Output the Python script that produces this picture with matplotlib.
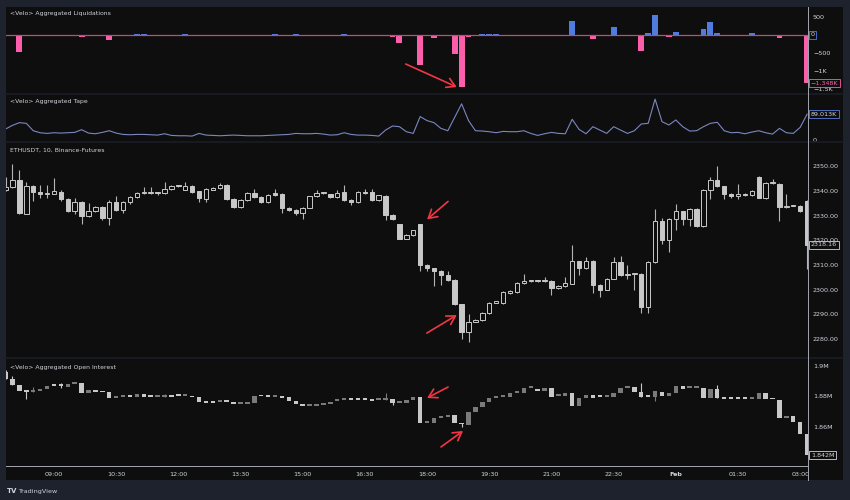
"""
ETHUSDT 10m chart with Velo liquidations, tape and open interest panels (TradingView style).
"""

import matplotlib
matplotlib.use("Agg")
import matplotlib.pyplot as plt
import matplotlib.transforms as mtransforms
from matplotlib.lines import Line2D
from matplotlib.patches import Rectangle
import numpy as np
import pandas as pd

W, H = 850, 500
BG = "#0e0e0e"
FRAME = "#1e222d"
TEXT = "#d1d4dc"
CANDLE = "#c8c8c8"
OI_UP = "#7a7a7a"
PINK = "#fb5fab"
BLUE = "#4e7ddf"
ARROW = "#f23645"

# ---- data -------------------------------------------------------------
times = pd.date_range("2024-01-31 07:50", periods=117, freq="10min")
tick_times = ["09:00", "10:30", "12:00", "13:30", "15:00", "16:30", "18:00",
              "19:30", "21:00", "22:30", "00:00", "01:30", "03:00"]
tick_labels = ["09:00", "10:30", "12:00", "13:30", "15:00", "16:30", "18:00",
               "19:30", "21:00", "22:30", "Feb", "01:30", "03:00"]

price_open = [
    2340.5, 2341.6, 2344.6, 2330.8, 2341.9, 2339.6, 2338.9, 2339.0, 2339.6, 2336.9,
    2331.9, 2335.7, 2329.8, 2331.8, 2333.5, 2329.2, 2335.4, 2332.5, 2335.4, 2337.6,
    2339.2, 2339.3, 2339.3, 2339.2, 2340.7, 2342.0, 2340.5, 2342.2, 2339.9, 2336.9,
    2340.5, 2341.2, 2342.6, 2336.6, 2333.5, 2336.2, 2339.2, 2337.6, 2335.4, 2339.2,
    2338.9, 2333.1, 2332.5, 2331.1, 2333.3, 2337.9, 2339.2, 2338.7, 2337.6, 2339.5,
    2336.5, 2335.5, 2339.6, 2339.6, 2336.2, 2338.1, 2330.3, 2326.5, 2320.7, 2322.2,
    2326.5, 2310.2, 2308.6, 2307.5, 2305.9, 2303.9, 2294.0, 2282.9, 2287.0, 2287.6,
    2290.6, 2294.8, 2294.4, 2298.5, 2299.1, 2302.8, 2303.6, 2303.6, 2303.5, 2303.6,
    2300.5, 2301.5, 2302.5, 2311.5, 2308.6, 2311.7, 2302.1, 2300.0, 2304.5, 2311.3,
    2305.9, 2306.3, 2306.5, 2293.0, 2311.3, 2327.7, 2320.3, 2328.5, 2331.8, 2328.5,
    2332.9, 2325.7, 2340.5, 2344.6, 2341.9, 2338.9, 2337.9, 2338.9, 2338.3, 2345.7,
    2337.3, 2343.3, 2343.0, 2333.5, 2334.1, 2334.1, 2336.0]
price_close = [
    2341.6, 2344.6, 2331.1, 2341.9, 2339.6, 2338.9, 2339.2, 2339.9, 2336.9, 2331.9,
    2335.5, 2329.8, 2331.8, 2333.5, 2329.2, 2335.4, 2332.5, 2335.4, 2337.6, 2339.2,
    2339.3, 2339.3, 2339.2, 2340.7, 2342.0, 2341.9, 2342.2, 2339.6, 2337.2, 2340.8,
    2341.2, 2342.6, 2336.6, 2333.5, 2336.2, 2339.2, 2337.6, 2335.4, 2338.4, 2338.4,
    2333.1, 2332.5, 2331.1, 2333.3, 2337.9, 2339.2, 2339.3, 2337.6, 2339.3, 2336.2,
    2335.5, 2339.6, 2339.2, 2336.2, 2338.3, 2330.3, 2328.7, 2320.7, 2322.2, 2324.1,
    2310.2, 2308.6, 2307.5, 2305.9, 2303.9, 2294.0, 2282.9, 2287.0, 2287.9, 2290.6,
    2294.8, 2294.9, 2299.1, 2299.5, 2302.8, 2303.6, 2303.6, 2303.5, 2303.6, 2300.5,
    2301.5, 2302.8, 2311.5, 2308.6, 2311.7, 2302.1, 2300.0, 2304.5, 2311.3, 2305.9,
    2306.3, 2306.5, 2293.0, 2311.3, 2327.7, 2320.3, 2328.5, 2331.8, 2328.5, 2332.9,
    2325.7, 2340.5, 2344.6, 2341.9, 2338.9, 2337.9, 2338.9, 2338.3, 2340.0, 2337.3,
    2343.3, 2343.4, 2333.5, 2334.1, 2334.1, 2331.9, 2318.16]
price_high = [
    2345.9, 2351.1, 2348.7, 2343.7, 2342.6, 2342.6, 2342.6, 2345.4, 2340.3, 2337.3,
    2337.3, 2336.0, 2335.2, 2334.0, 2334.0, 2336.2, 2337.9, 2335.8, 2338.0, 2339.6,
    2341.6, 2341.6, 2339.6, 2343.5, 2342.4, 2342.2, 2343.5, 2342.6, 2340.0, 2341.2,
    2341.6, 2343.3, 2343.0, 2337.0, 2336.6, 2339.5, 2340.8, 2337.9, 2338.7, 2340.8,
    2339.2, 2333.5, 2332.8, 2333.6, 2338.2, 2340.3, 2339.6, 2339.0, 2340.5, 2342.6,
    2336.8, 2340.0, 2340.8, 2341.0, 2338.6, 2338.4, 2330.6, 2326.8, 2322.5, 2324.4,
    2326.8, 2310.5, 2308.9, 2307.8, 2307.6, 2304.2, 2294.3, 2290.0, 2288.2, 2290.9,
    2295.1, 2295.2, 2299.4, 2299.8, 2303.1, 2306.5, 2303.9, 2303.9, 2305.2, 2303.9,
    2301.8, 2305.2, 2318.3, 2311.8, 2313.3, 2312.0, 2302.4, 2304.8, 2313.3, 2313.6,
    2310.2, 2306.8, 2306.8, 2311.6, 2332.9, 2329.0, 2329.0, 2334.9, 2332.1, 2333.2,
    2333.2, 2340.8, 2345.9, 2350.0, 2342.2, 2339.2, 2343.0, 2339.2, 2340.3, 2346.0,
    2343.6, 2345.0, 2343.3, 2338.9, 2334.4, 2334.4, 2336.3]
price_low = [
    2340.0, 2341.3, 2330.8, 2330.5, 2335.8, 2337.3, 2337.3, 2338.7, 2335.8, 2331.5,
    2330.6, 2326.8, 2329.5, 2331.5, 2328.1, 2326.1, 2332.0, 2331.1, 2334.9, 2337.0,
    2339.0, 2339.0, 2338.4, 2339.0, 2340.3, 2341.6, 2340.3, 2339.3, 2335.6, 2335.5,
    2340.3, 2341.0, 2336.3, 2333.2, 2333.2, 2336.0, 2337.0, 2335.0, 2335.0, 2338.1,
    2331.1, 2332.0, 2330.2, 2328.8, 2333.0, 2337.6, 2338.9, 2337.3, 2337.3, 2336.0,
    2334.2, 2335.2, 2338.9, 2335.9, 2335.8, 2328.1, 2328.4, 2320.4, 2320.4, 2321.9,
    2307.6, 2307.6, 2301.5, 2301.8, 2303.6, 2293.7, 2279.8, 2278.9, 2286.7, 2287.3,
    2290.3, 2294.5, 2294.1, 2298.2, 2298.8, 2302.5, 2303.3, 2303.2, 2303.2, 2297.8,
    2300.2, 2301.2, 2302.2, 2305.9, 2308.3, 2298.7, 2297.1, 2299.7, 2304.2, 2305.6,
    2304.5, 2300.0, 2290.4, 2290.4, 2311.0, 2318.7, 2315.3, 2324.1, 2326.1, 2325.7,
    2325.4, 2325.4, 2336.8, 2341.6, 2336.8, 2337.3, 2336.8, 2338.0, 2338.0, 2337.0,
    2336.8, 2343.0, 2327.7, 2333.2, 2333.8, 2331.6, 2308.2]

# open interest, millions
oi_open = [
    1.8963, 1.8915, 1.8875, 1.8836, 1.8832, 1.8836, 1.8847, 1.8871, 1.8869, 1.8864,
    1.8882, 1.8886, 1.8821, 1.8843, 1.8832, 1.8827, 1.8792, 1.8797, 1.8805, 1.8799,
    1.8814, 1.8797, 1.8797, 1.8797, 1.8810, 1.8805, 1.8805, 1.8805, 1.8794, 1.8766,
    1.8759, 1.8762, 1.8770, 1.8762, 1.8749, 1.8753, 1.8759, 1.8801, 1.8801, 1.8799,
    1.8801, 1.8799, 1.8773, 1.8749, 1.8738, 1.8740, 1.8746, 1.8753, 1.8770, 1.8775,
    1.8777, 1.8777, 1.8777, 1.8775, 1.8775, 1.8777, 1.8781, 1.8759, 1.8755, 1.8777,
    1.8799, 1.8624, 1.8624, 1.8660, 1.8663, 1.8679, 1.8628, 1.8613, 1.8696, 1.8733,
    1.8766, 1.8788, 1.8799, 1.8799, 1.8823, 1.8825, 1.8854, 1.8851, 1.8838, 1.8856,
    1.8803, 1.8805, 1.8821, 1.8738, 1.8788, 1.8810, 1.8799, 1.8797, 1.8799, 1.8821,
    1.8854, 1.8864, 1.8827, 1.8799, 1.8799, 1.8832, 1.8805, 1.8825, 1.8871, 1.8856,
    1.8858, 1.8858, 1.8792, 1.8847, 1.8788, 1.8786, 1.8786, 1.8786, 1.8784, 1.8786,
    1.8825, 1.8788, 1.8777, 1.8661, 1.8672, 1.8635, 1.8554]
oi_close = [
    1.8915, 1.8875, 1.8836, 1.8832, 1.8836, 1.8847, 1.8871, 1.8869, 1.8869, 1.8882,
    1.8886, 1.8821, 1.8843, 1.8832, 1.8827, 1.8792, 1.8797, 1.8805, 1.8799, 1.8814,
    1.8797, 1.8797, 1.8799, 1.8810, 1.8799, 1.8805, 1.8808, 1.8794, 1.8766, 1.8759,
    1.8759, 1.8770, 1.8762, 1.8749, 1.8753, 1.8759, 1.8801, 1.8801, 1.8799, 1.8801,
    1.8792, 1.8773, 1.8749, 1.8735, 1.8740, 1.8746, 1.8753, 1.8766, 1.8773, 1.8777,
    1.8777, 1.8777, 1.8775, 1.8773, 1.8777, 1.8781, 1.8759, 1.8762, 1.8777, 1.8799,
    1.8624, 1.8626, 1.8657, 1.8663, 1.8679, 1.8628, 1.8617, 1.8696, 1.8733, 1.8766,
    1.8788, 1.8799, 1.8801, 1.8821, 1.8825, 1.8854, 1.8856, 1.8838, 1.8856, 1.8794,
    1.8805, 1.8821, 1.8738, 1.8788, 1.8810, 1.8788, 1.8797, 1.8799, 1.8821, 1.8854,
    1.8864, 1.8827, 1.8799, 1.8797, 1.8836, 1.8805, 1.8825, 1.8871, 1.8849, 1.8858,
    1.8862, 1.8792, 1.8847, 1.8788, 1.8786, 1.8786, 1.8786, 1.8784, 1.8786, 1.8825,
    1.8786, 1.8781, 1.8661, 1.8666, 1.8635, 1.8554, 1.8416]
oi_wick_idx = [0, 1, 3, 4, 8, 23, 55, 56, 66, 92, 94, 103]
oi_wick_low = [1.8915, 1.8875, 1.8784, 1.8832, 1.8854, 1.8797, 1.8777, 1.8744,
               1.8602, 1.8799, 1.8770, 1.8788]
oi_wick_high = [1.8974, 1.8937, 1.8836, 1.8860, 1.8886, 1.8816, 1.8821, 1.8781,
                1.8628, 1.8886, 1.8836, 1.8875]

# aggregated tape, thousands
tape_k = [
    38.1, 50.8, 60.0, 57.7, 32.3, 25.4, 23.1, 25.4, 24.2, 25.4,
    26.6, 35.8, 24.2, 21.9, 26.6, 32.3, 24.2, 19.6, 18.5, 19.6,
    19.6, 18.5, 17.3, 21.9, 16.2, 15.0, 15.0, 13.9, 23.1, 17.3,
    16.2, 15.0, 16.2, 17.3, 16.2, 15.0, 15.0, 15.0, 16.2, 17.3,
    18.5, 19.6, 23.1, 21.9, 21.9, 23.1, 20.8, 17.3, 18.5, 25.4,
    19.6, 17.3, 17.3, 16.2, 13.9, 34.6, 48.5, 46.2, 28.9, 23.1,
    80.8,
    67.0, 60.0, 40.4, 32.3, 78.5, 124.7, 67.0, 32.3, 31.2, 28.9,
    25.4, 30.0, 28.9, 28.9, 32.3, 23.1, 16.2, 21.9, 26.6, 23.1,
    21.9, 71.6, 36.9, 21.9, 46.2, 34.6, 23.1, 46.2, 34.6, 23.1,
    32.3, 55.4, 57.7, 140.9, 63.5, 52.0, 69.3, 46.2, 31.2, 32.3,
    46.2, 57.7, 61.2, 32.3, 25.4, 26.6, 21.9, 27.7, 32.3, 25.4,
    20.8, 40.4, 25.4, 23.1, 43.9, 89.013]

# aggregated liquidations (longs negative, shorts positive)
liq_long_idx = [2, 11, 15, 56, 57, 60, 61, 62, 65, 66, 67, 85, 92, 96, 112, 116]
liq_long_val = [-472, -65, -148, -65, -241, -843, -40, -100, -546, -1444, -55,
                -130, -454, -56, -102, -1348]
liq_short_idx = [19, 20, 26, 39, 42, 49, 69, 70, 71, 82, 88, 93, 94, 97, 101,
                 102, 103, 108]
liq_short_val = [15, 12, 12, 18, 10, 12, 10, 8, 10, 389, 222, 37, 556, 65, 148,
                 361, 56, 37]


def px_rect(x0, y0, x1, y1):
    return [x0 / W, 1 - y1 / H, (x1 - x0) / W, (y1 - y0) / H]


def panel(fig, y0, y1):
    ax = fig.add_axes(px_rect(6, y0, 808, y1), facecolor=BG)
    for s in ax.spines.values():
        s.set_visible(False)
    ax.yaxis.tick_right()
    ax.tick_params(axis="y", length=0, pad=3.5, labelsize=4.6, labelcolor=TEXT)
    ax.tick_params(axis="x", length=0, labelbottom=False)
    ax.set_xlim(0.06, 116.13)
    return ax


def title(ax, y, s):
    ax.text(0.005, y, s, transform=ax.transAxes, fontsize=4.4, color=TEXT,
            va="center", ha="left")


def value_box(ax, y, s, edge, color):
    tr = mtransforms.blended_transform_factory(ax.transAxes, ax.transData)
    ax.text(1.0035, y, s, transform=tr, fontsize=4.6, color=color, va="center",
            ha="left", clip_on=False, zorder=5,
            bbox=dict(boxstyle="square,pad=0.25", fc=BG, ec=edge, lw=0.6))


def arrow(ax, x, y, dx, dy):
    ax.annotate("", xy=(x, y), xytext=(dx, dy), textcoords="offset pixels",
                annotation_clip=False,
                arrowprops=dict(arrowstyle="->,head_length=0.6,head_width=0.35",
                                color=ARROW, lw=1.2, shrinkA=0, shrinkB=0))


def main():
    idx = np.arange(len(times))
    labels = list(times.strftime("%H:%M"))
    tick_idx = [labels.index(t) for t in tick_times]

    fig = plt.figure(figsize=(W / 100, H / 100), dpi=100, facecolor=FRAME)
    fig.add_artist(Rectangle((6 / W, 1 - 480 / H), 837 / W, 473 / H,
                             transform=fig.transFigure, fc=BG, ec="none", zorder=-5))

    # Liquidations
    ax_liq = panel(fig, 7, 93)
    ax_liq.set_ylim(-1619, 769)
    ax_liq.bar(liq_long_idx, liq_long_val, width=0.85, color=PINK)
    ax_liq.bar(liq_short_idx, liq_short_val, width=0.85, color=BLUE)
    ax_liq.axhline(0, color="#c24a7c", lw=0.9, zorder=1)
    # the zero level is shown by its own boxed label
    ax_liq.set_yticks([500, -500, -1000, -1500])
    ax_liq.set_yticklabels(["500", "\u2212500", "\u22121K", "\u22121.5K"])
    title(ax_liq, 0.92, "<Velo> Aggregated Liquidations")
    value_box(ax_liq, 0, "0", BLUE, TEXT)
    value_box(ax_liq, liq_long_val[-1], "\u22121.348K", PINK, PINK)
    arrow(ax_liq, 65.3, -1453, -51, 23)

    # Tape
    ax_tape = panel(fig, 95, 141)
    ax_tape.set_ylim(-3, 155)
    ax_tape.plot(idx, tape_k, color="#7b86c2", lw=0.8)
    ax_tape.set_yticks([0])
    ax_tape.set_yticklabels(["0"])
    title(ax_tape, 0.85, "<Velo> Aggregated Tape")
    value_box(ax_tape, tape_k[-1], "89.013K", "#5b7fd8", TEXT)

    # Price
    ax_p = panel(fig, 142.5, 357)
    ax_p.set_ylim(2272.7, 2359.7)
    o = np.array(price_open)
    c = np.array(price_close)
    up = c >= o
    ax_p.vlines(idx, price_low, price_high, color="#b4b4b4", lw=0.8, zorder=2)
    bottom = np.minimum(o, c)
    height = np.maximum(np.abs(c - o), 0.45)
    ax_p.bar(idx[up], height[up], bottom=bottom[up], width=0.64, fc=BG,
             ec=CANDLE, lw=0.7, zorder=3)
    ax_p.bar(idx[~up], height[~up], bottom=bottom[~up], width=0.64, fc=CANDLE,
             ec=CANDLE, lw=0.7, zorder=3)
    ticks = np.arange(2280, 2351, 10)
    ax_p.set_yticks(ticks)
    ax_p.set_yticklabels([f"{v:.2f}" for v in ticks])
    title(ax_p, 0.963, "ETHUSDT, 10, Binance-Futures")
    value_box(ax_p, price_close[-1], f"{price_close[-1]:.2f}", TEXT, TEXT)
    arrow(ax_p, 61.0, 2328.5, 21, 18)
    arrow(ax_p, 65.3, 2289.7, -30, -18)

    # Open interest
    ax_oi = panel(fig, 359, 466)
    ax_oi.set_ylim(1.8344, 1.9046)
    oo = np.array(oi_open)
    oc = np.array(oi_close)
    oi_up = oc > oo
    ax_oi.vlines(oi_wick_idx, oi_wick_low, oi_wick_high,
                 color=[OI_UP if oi_up[i] else CANDLE for i in oi_wick_idx],
                 lw=0.8, zorder=2)
    ob = np.minimum(oo, oc)
    oh = np.maximum(np.abs(oc - oo), 0.0012)
    ax_oi.bar(idx, oh, bottom=ob, width=0.64,
              color=np.where(oi_up, OI_UP, CANDLE), zorder=3)
    ax_oi.set_yticks([1.86, 1.88, 1.90])
    ax_oi.set_yticklabels(["1.86M", "1.88M", "1.9M"])
    title(ax_oi, 0.916, "<Velo> Aggregated Open Interest")
    value_box(ax_oi, oi_close[-1], "1.842M", TEXT, TEXT)
    arrow(ax_oi, 61.0, 1.8790, 21, 11)
    arrow(ax_oi, 66.2, 1.8574, -22, -16)

    ax_oi.set_xticks(tick_idx)
    ax_oi.set_xticklabels(tick_labels)
    ax_oi.tick_params(axis="x", labelbottom=True, labelsize=4.6,
                      labelcolor=TEXT, pad=4)
    for t in ax_oi.get_xticklabels():
        if t.get_text() == "Feb":
            t.set_fontweight("bold")

    # separators and axis lines
    for y in (94, 141.7, 358):
        fig.add_artist(Line2D([6 / W, 843 / W], [1 - y / H] * 2,
                              transform=fig.transFigure, color="#1a1d25", lw=1.2))
    fig.add_artist(Line2D([808 / W] * 2, [1 - 7 / H, 1 - 480 / H],
                          transform=fig.transFigure, color="#a3a6af", lw=0.7))
    fig.add_artist(Line2D([6 / W, 808 / W], [1 - 466 / H] * 2,
                          transform=fig.transFigure, color="#a3a6af", lw=0.7))

    fig.text(7 / W, 1 - 491 / H, "TV", fontsize=5, color=TEXT,
             fontweight="bold", va="center")
    fig.text(18 / W, 1 - 491 / H, "TradingView", fontsize=4.6, color=TEXT,
             va="center")

    fig.savefig("out.png", dpi=100, facecolor=FRAME)


if __name__ == "__main__":
    main()
